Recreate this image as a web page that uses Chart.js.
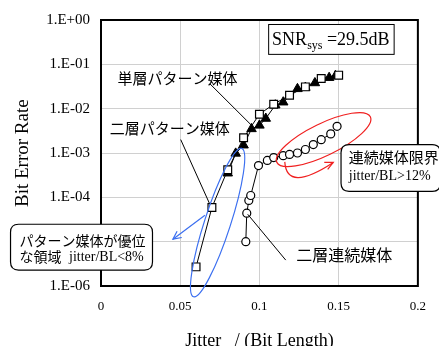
<!DOCTYPE html>
<html>
<head>
<meta charset="utf-8">
<script src="https://cdn.jsdelivr.net/npm/chart.js@4.4.1/dist/chart.umd.min.js"></script>
<style>
  html, body { margin: 0; padding: 0; background: #fff; }
  canvas { display: block; }
</style>
</head>
<body>
<canvas id="berChart" width="439" height="346"></canvas>
<script>
  // 二層パターン媒体 (open squares)
  const dualPatternX = [0.060, 0.070, 0.080, 0.090, 0.100, 0.109, 0.119, 0.129, 0.139, 0.150];
  const dualPatternY = [2.7e-6, 5.9e-5, 4.2e-4, 2.2e-3, 7.5e-3, 1.26e-2, 2.0e-2, 3.1e-2, 4.8e-2, 5.7e-2];

  // 単層パターン媒体 (filled triangles)
  const singlePatternX = [0.080, 0.085, 0.090, 0.095, 0.100, 0.104, 0.110, 0.115, 0.124, 0.129, 0.135, 0.144, 0.148];
  const singlePatternY = [3.5e-4, 9.8e-4, 1.5e-3, 3.5e-3, 4.2e-3, 6.0e-3, 1.2e-2, 1.4e-2, 2.8e-2, 3.0e-2, 3.8e-2, 5.0e-2, 5.5e-2];

  // 二層連続媒体 (open circles)
  const dualContX = [0.0914, 0.092, 0.0933, 0.0945, 0.0994, 0.105, 0.109, 0.115, 0.119, 0.124, 0.129, 0.134, 0.139, 0.145, 0.149];
  const dualContY = [1.0e-5, 4.4e-5, 8.5e-5, 1.1e-4, 5.2e-4, 6.8e-4, 7.9e-4, 8.7e-4, 9.3e-4, 1.0e-3, 1.2e-3, 1.55e-3, 2.0e-3, 2.7e-3, 4.0e-3];

  // axis ticks
  const xTicks = [0, 0.05, 0.1, 0.15, 0.2];
  const yDecades = [-6, -5, -4, -3, -2, -1, 0];

  const serif = '"Liberation Serif", "Times New Roman", serif';
  const cjk = '"Noto Sans CJK JP", "Noto Sans", sans-serif';

  const toPoints = (xs, ys) => xs.map((x, i) => ({x: x, y: ys[i]}));

  function fmtExp(v) {
    const e = Math.round(Math.log10(v));
    const sign = e < 0 ? '-' : '+';
    return '1.E' + sign + String(Math.abs(e)).padStart(2, '0');
  }

  function arrowHead(ctx, fx, fy, tx, ty, len) {
    const a = Math.atan2(ty - fy, tx - fx);
    ctx.beginPath();
    ctx.moveTo(tx - len * Math.cos(a - 0.45), ty - len * Math.sin(a - 0.45));
    ctx.lineTo(tx, ty);
    ctx.lineTo(tx - len * Math.cos(a + 0.45), ty - len * Math.sin(a + 0.45));
    ctx.stroke();
  }

  function roundBox(ctx, x0, y0, x1, y1, r) {
    ctx.beginPath();
    ctx.moveTo(x0 + r, y0);
    ctx.lineTo(x1 - r, y0);
    ctx.quadraticCurveTo(x1, y0, x1, y0 + r);
    ctx.lineTo(x1, y1 - r);
    ctx.quadraticCurveTo(x1, y1, x1 - r, y1);
    ctx.lineTo(x0 + r, y1);
    ctx.quadraticCurveTo(x0, y1, x0, y1 - r);
    ctx.lineTo(x0, y0 + r);
    ctx.quadraticCurveTo(x0, y0, x0 + r, y0);
    ctx.closePath();
  }

  // frame, axis titles and the hand-drawn notes
  const notesPlugin = {
    id: 'notes',
    beforeDatasetsDraw(chart) {
      const ctx = chart.ctx, a = chart.chartArea;
      ctx.save();
      ctx.strokeStyle = '#000';
      ctx.lineWidth = 2;
      ctx.strokeRect(a.left, a.top, a.right - a.left, a.bottom - a.top);
      ctx.restore();
    },
    afterDatasetsDraw(chart) {
      const ctx = chart.ctx;
      const xs = chart.scales.x, ys = chart.scales.y;
      const X = v => xs.getPixelForValue(v);
      const Y = e => ys.getPixelForValue(Math.pow(10, e));
      ctx.save();

      // axis titles
      ctx.fillStyle = '#000';
      ctx.font = '18px ' + serif;
      ctx.textAlign = 'center';
      ctx.textBaseline = 'alphabetic';
      ctx.fillText('Jitter   / (Bit Length)', X(0.1), 346);
      ctx.save();
      ctx.font = '19px ' + serif;
      ctx.translate(28, (Y(-3) + Y(-4)) / 2 - 22);
      ctx.rotate(-Math.PI / 2);
      ctx.fillText('Bit Error Rate', 0, 0);
      ctx.restore();

      // SNR box
      ctx.lineWidth = 1;
      ctx.strokeStyle = '#000';
      ctx.fillStyle = '#fff';
      const bx0 = X(0.1055), by0 = Y(-0.09), bx1 = X(0.1847), by1 = Y(-0.764);
      ctx.fillRect(bx0, by0, bx1 - bx0, by1 - by0);
      ctx.strokeRect(bx0 + 0.5, by0 + 0.5, bx1 - bx0, by1 - by0);
      ctx.fillStyle = '#000';
      ctx.textAlign = 'left';
      let tx = X(0.108);
      const tb = Y(-0.56);
      ctx.font = '18px ' + serif;
      ctx.fillText('SNR', tx, tb);
      tx += ctx.measureText('SNR').width;
      ctx.font = '12px ' + serif;
      ctx.fillText('sys', tx, tb + 4);
      tx += ctx.measureText('sys').width;
      ctx.font = '18px ' + serif;
      ctx.fillText(' =29.5dB', tx, tb);

      // leader lines
      ctx.beginPath();
      ctx.moveTo(X(0.0687), Y(-1.438)); ctx.lineTo(X(0.0957), Y(-2.40));
      ctx.moveTo(X(0.0503), Y(-2.697)); ctx.lineTo(X(0.0687), Y(-4.157));
      ctx.moveTo(X(0.1166), Y(-5.416)); ctx.lineTo(X(0.0926), Y(-4.382));
      ctx.stroke();

      // series labels
      ctx.textBaseline = 'middle';
      ctx.font = '15px ' + cjk;
      ctx.fillText('単層パターン媒体', X(0.0104), Y(-1.326));
      ctx.fillText('二層パターン媒体', X(0.0055), Y(-2.449));
      ctx.font = '16px ' + cjk;
      ctx.fillText('二層連続媒体', X(0.1233), Y(-5.303));

      // blue region ellipse and arrow
      ctx.strokeStyle = '#3b6ff0';
      ctx.lineWidth = 1.2;
      ctx.beginPath();
      ctx.ellipse(X(0.0736), Y(-4.57), 78, 13, -72 * Math.PI / 180, 0, Math.PI * 2);
      ctx.stroke();
      ctx.beginPath();
      ctx.moveTo(X(0.0656), Y(-4.404));
      ctx.lineTo(X(0.0454), Y(-4.944));
      ctx.stroke();
      arrowHead(ctx, X(0.0656), Y(-4.404), X(0.0454), Y(-4.944), 9);

      // red region ellipse and arrow
      ctx.strokeStyle = '#f02020';
      ctx.beginPath();
      ctx.ellipse(X(0.1405), Y(-2.697), 52, 16, -26 * Math.PI / 180, 0, Math.PI * 2);
      ctx.stroke();
      ctx.beginPath();
      ctx.moveTo(X(0.1160), Y(-3.20));
      ctx.quadraticCurveTo(X(0.1172), Y(-3.90), X(0.1466), Y(-3.213));
      ctx.stroke();
      arrowHead(ctx, X(0.130), Y(-3.50), X(0.1466), Y(-3.213), 9);

      // left note box
      ctx.strokeStyle = '#000';
      ctx.lineWidth = 1.2;
      ctx.fillStyle = '#fff';
      roundBox(ctx, X(-0.0571), Y(-4.607), X(0.0325), Y(-5.640), 8);
      ctx.fill(); ctx.stroke();
      ctx.fillStyle = '#000';
      ctx.font = '14px ' + cjk;
      ctx.fillText('パターン媒体が優位', X(-0.0515), Y(-4.989));
      ctx.fillText('な領域', X(-0.0515), Y(-5.348));
      ctx.font = '14px ' + serif;
      ctx.fillText('jitter/BL<8%', X(-0.0202), Y(-5.348));

      // right note box
      ctx.fillStyle = '#fff';
      roundBox(ctx, X(0.1515), Y(-2.809), X(0.2141), Y(-3.865), 8);
      ctx.fill(); ctx.stroke();
      ctx.fillStyle = '#000';
      ctx.font = '15px ' + cjk;
      ctx.fillText('連続媒体限界', X(0.1564), Y(-3.101));
      ctx.font = '14px ' + serif;
      ctx.fillText('jitter/BL>12%', X(0.1564), Y(-3.528));

      ctx.restore();
    }
  };

  const ctx = document.getElementById('berChart').getContext('2d');
  new Chart(ctx, {
    type: 'scatter',
    data: {
      datasets: [
        {
          label: '二層パターン媒体',
          data: toPoints(dualPatternX, dualPatternY),
          showLine: true,
          borderColor: '#000',
          borderWidth: 1,
          pointStyle: 'rect',
          pointRadius: 5.5,
          pointBackgroundColor: '#fff',
          pointBorderColor: '#000',
          pointBorderWidth: 1.2
        },
        {
          label: '単層パターン媒体',
          data: toPoints(singlePatternX, singlePatternY),
          showLine: true,
          borderColor: '#000',
          borderWidth: 1,
          pointStyle: 'triangle',
          pointRadius: 5.5,
          pointBackgroundColor: '#000',
          pointBorderColor: '#000',
          pointBorderWidth: 1
        },
        {
          label: '二層連続媒体',
          data: toPoints(dualContX, dualContY),
          showLine: true,
          borderColor: '#000',
          borderWidth: 1,
          pointStyle: 'circle',
          pointRadius: 4,
          pointBackgroundColor: '#fff',
          pointBorderColor: '#000',
          pointBorderWidth: 1.2
        }
      ]
    },
    options: {
      responsive: false,
      animation: false,
      layout: { padding: { top: 18, right: 12, left: 0, bottom: 0 } },
      plugins: {
        legend: { display: false },
        tooltip: { enabled: false }
      },
      scales: {
        x: {
          type: 'linear',
          min: 0,
          max: 0.2,
          afterFit: s => { s.height = 60; },
          afterBuildTicks: s => { s.ticks = xTicks.map(v => ({value: v})); },
          ticks: {
            padding: 13,
            color: '#000',
            font: { family: serif, size: 13 },
            callback: v => String(Math.round(v * 100) / 100)
          },
          grid: { color: '#d0d0d0', drawTicks: false },
          border: { display: false }
        },
        y: {
          type: 'logarithmic',
          min: 1e-6,
          max: 1,
          afterFit: s => { s.width = 101; },
          afterBuildTicks: s => { s.ticks = yDecades.map(e => ({value: Math.pow(10, e)})); },
          ticks: {
            padding: 11,
            color: '#000',
            font: { family: serif, size: 15 },
            callback: v => fmtExp(v)
          },
          grid: { color: '#d0d0d0', drawTicks: false },
          border: { display: false }
        }
      }
    },
    plugins: [notesPlugin]
  });
</script>
</body>
</html>
